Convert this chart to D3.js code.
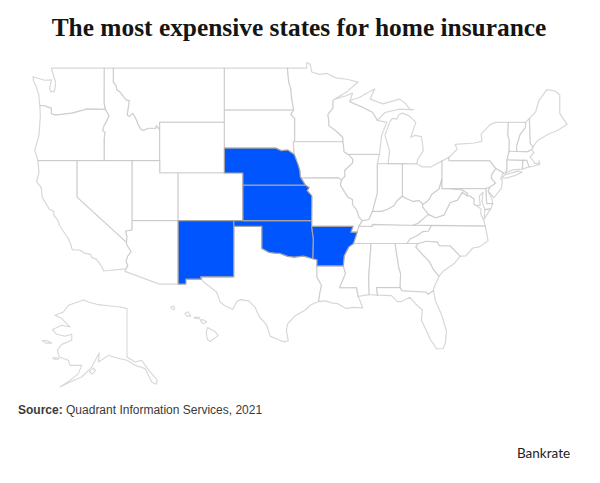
<!DOCTYPE html>
<html><head><meta charset="utf-8">
<script src="https://cdn.jsdelivr.net/npm/d3@7"></script>
<style>
html,body{margin:0;padding:0;background:#fff}
svg{display:block}
</style></head><body>
<svg id="c" width="600" height="483"></svg>
<script>
const titleText="The most expensive states for home insurance";
const sourceLabel="Source:";
const sourceText=" Quadrant Information Services, 2021";
const brandText="Bankrate";
const expensiveStates=["Nebraska","Kansas","Oklahoma","Arkansas","New Mexico"];

const WA=[[[-124.73,48.38],[-123.5,48.13],[-122.75,48.15],[-122.95,47.55],[-122.8,47.3],[-122.45,47.3],[-122.35,47.6],[-122.3,48.0],[-122.5,48.4],[-122.75,49],[-117.03,49],[-117.04,46.42],[-116.92,45.99],[-118.98,46],[-119.3,45.93],[-120.5,45.7],[-121.2,45.65],[-122.25,45.55],[-122.75,45.65],[-122.8,46.1],[-123.2,46.15],[-123.5,46.27],[-124,46.27],[-124.07,46.7],[-124.1,47],[-124.4,47.7],[-124.7,48.1]]];
const OR=[[[-124,46.27],[-123.5,46.27],[-123.2,46.15],[-122.8,46.1],[-122.75,45.65],[-122.25,45.55],[-121.2,45.65],[-120.5,45.7],[-119.3,45.93],[-118.98,46],[-116.92,45.99],[-116.5,45.5],[-116.85,45],[-117.05,44.75],[-117.2,44.4],[-116.95,44.2],[-117.03,43.8],[-117.03,42],[-124.2,42],[-124.55,42.84],[-124.1,44],[-123.95,45.5]]];
const ID=[[[-117.03,49],[-116.05,49],[-116.05,48],[-115.72,47.7],[-115.7,47.45],[-115.3,47.25],[-114.95,46.93],[-114.6,46.65],[-114.33,46.65],[-114.45,46],[-114.55,45.57],[-114.33,45.47],[-113.95,45.7],[-113.8,45.52],[-113.45,45.05],[-113.45,44.95],[-113.1,44.5],[-112.85,44.37],[-112.3,44.55],[-111.5,44.55],[-111.4,44.75],[-111.05,44.47],[-111.05,42],[-117.03,42],[-117.03,43.8],[-116.95,44.2],[-117.2,44.4],[-117.05,44.75],[-116.85,45],[-116.5,45.5],[-116.92,45.99],[-117.04,46.42]]];
const MT=[[[-116.05,49],[-104.05,49],[-104.05,45],[-111.05,45],[-111.05,44.47],[-111.4,44.75],[-111.5,44.55],[-112.3,44.55],[-112.85,44.37],[-113.1,44.5],[-113.45,44.95],[-113.45,45.05],[-113.8,45.52],[-113.95,45.7],[-114.33,45.47],[-114.55,45.57],[-114.45,46],[-114.33,46.65],[-114.6,46.65],[-114.95,46.93],[-115.3,47.25],[-115.7,47.45],[-115.72,47.7],[-116.05,48]]];
const WY=[[[-111.05,45],[-104.05,45],[-104.05,41],[-111.05,41]]];
const UT=[[[-114.05,42],[-111.05,42],[-111.05,41],[-109.05,41],[-109.05,37],[-114.05,37]]];
const CO=[[[-109.05,41],[-102.05,41],[-102.05,37],[-109.05,37]]];
const NM=[[[-109.05,37],[-103.03,37],[-103.04,32],[-106.62,32],[-106.53,31.78],[-108.21,31.78],[-108.21,31.33],[-109.05,31.33]]];
const AZ=[[[-114.05,37],[-109.05,37],[-109.05,31.33],[-111.07,31.33],[-114.8,32.5],[-114.72,32.72],[-114.5,33],[-114.7,33.4],[-114.5,33.9],[-114.15,34.27],[-114.6,34.87],[-114.65,35.1],[-114.6,35.6],[-114.75,36.1],[-114.05,36.2]]];
const NV=[[[-120,42],[-114.05,42],[-114.05,36.2],[-114.75,36.1],[-114.6,35.6],[-114.65,35.1],[-120,39]]];
const CA=[[[-124.2,42],[-120,42],[-120,39],[-114.65,35.1],[-114.6,34.87],[-114.15,34.27],[-114.5,33.9],[-114.7,33.4],[-114.5,33],[-114.72,32.72],[-117.12,32.53],[-117.25,32.85],[-117.9,33.6],[-118.4,33.75],[-118.5,34.03],[-119.2,34.15],[-119.6,34.4],[-120.5,34.45],[-120.65,34.9],[-120.9,35.4],[-121.9,36.6],[-122,36.95],[-122.5,37.5],[-122.5,37.8],[-123,38],[-123.75,39],[-123.85,39.8],[-124.35,40.3],[-124.1,41]]];
const TX=[[[-103.03,36.5],[-100,36.5],[-100,34.56],[-99.2,34.2],[-98.6,34.15],[-98.1,34.13],[-97.2,33.85],[-96.5,33.78],[-95.5,33.88],[-94.48,33.64],[-94.04,33.55],[-94.04,33],[-94.04,31.99],[-93.55,31.2],[-93.75,30.4],[-93.85,29.7],[-94.7,29.4],[-95.3,28.9],[-96.4,28.35],[-97.2,27.6],[-97.35,26.95],[-97.15,25.96],[-97.55,25.85],[-98.2,26.05],[-99.1,26.4],[-99.5,27.5],[-100.3,28.3],[-100.7,29.1],[-101.4,29.77],[-102.3,29.88],[-102.7,29.7],[-103.15,28.98],[-104,29.3],[-104.5,29.65],[-104.9,30.6],[-106.2,31.45],[-106.53,31.78],[-106.62,32],[-103.04,32]]];
const OK=[[[-103.03,37],[-94.62,37],[-94.62,36.5],[-94.43,35.4],[-94.48,33.64],[-95.5,33.88],[-96.5,33.78],[-97.2,33.85],[-98.1,34.13],[-98.6,34.15],[-99.2,34.2],[-100,34.56],[-100,36.5],[-103.03,36.5]]];
const KS=[[[-102.05,40],[-95.3,40],[-94.9,39.8],[-95.1,39.55],[-94.6,39.1],[-94.62,37],[-102.05,37]]];
const NE=[[[-104.05,43],[-98.5,43],[-97.9,42.8],[-97.2,42.85],[-96.5,42.5],[-96.25,42],[-96.1,41.7],[-95.9,41.2],[-95.85,40.7],[-95.3,40],[-102.05,40],[-102.05,41],[-104.05,41]]];
const SD=[[[-104.05,45.94],[-96.56,45.94],[-96.85,45.6],[-96.45,45.3],[-96.45,43.5],[-96.6,43.5],[-96.5,42.5],[-97.2,42.85],[-97.9,42.8],[-98.5,43],[-104.05,43]]];
const ND=[[[-104.05,49],[-97.23,49],[-97.1,48],[-96.85,47.5],[-96.8,46.9],[-96.56,45.94],[-104.05,45.94]]];
const MN=[[[-97.23,49],[-95.15,49],[-95.15,49.38],[-94.8,49.3],[-94.6,48.72],[-93.8,48.55],[-92.95,48.62],[-92,48.3],[-90.8,48.2],[-89.6,48],[-90.8,47.3],[-92.1,46.75],[-92.3,46.65],[-92.3,46.1],[-92.85,45.6],[-92.75,45],[-92.75,44.75],[-91.9,44.3],[-91.25,43.85],[-91.22,43.5],[-96.45,43.5],[-96.45,45.3],[-96.85,45.6],[-96.56,45.94],[-96.8,46.9],[-96.85,47.5],[-97.1,48]]];
const IA=[[[-96.6,43.5],[-91.22,43.5],[-91.1,42.7],[-90.65,42.5],[-90.15,42.1],[-90.2,41.8],[-91.05,41.2],[-91,40.75],[-91.4,40.4],[-91.73,40.6],[-95.77,40.58],[-95.85,40.7],[-95.9,41.2],[-96.1,41.7],[-96.25,42],[-96.5,42.5]]];
const MO=[[[-95.77,40.58],[-91.73,40.6],[-91.4,40.4],[-91.5,40],[-90.7,39],[-90.2,38.8],[-90.2,38.4],[-89.7,37.85],[-89.5,37.3],[-89.15,37],[-89.5,36.5],[-89.7,36],[-90.38,36],[-90.15,36.5],[-94.62,36.5],[-94.62,37],[-94.6,39.1],[-95.1,39.55],[-94.9,39.8],[-95.3,40]]];
const AR=[[[-94.62,36.5],[-90.15,36.5],[-90.38,36],[-89.7,36],[-90.1,35],[-90.6,34.7],[-91.1,33.9],[-91.2,33],[-94.04,33],[-94.04,33.55],[-94.48,33.64],[-94.43,35.4]]];
const LA=[[[-94.04,33],[-91.2,33],[-90.95,32.3],[-91.6,31],[-89.75,31],[-89.6,30.18],[-89.4,29.8],[-89.1,29.1],[-90.1,29.15],[-90.9,29.05],[-91.8,29.5],[-92.3,29.55],[-93.2,29.77],[-93.85,29.7],[-93.75,30.4],[-93.55,31.2],[-94.04,31.99]]];
const MS=[[[-90.1,35],[-88.2,35],[-88.45,31.9],[-88.4,30.35],[-89.6,30.18],[-89.75,31],[-91.6,31],[-90.95,32.3],[-91.2,33],[-91.1,33.9],[-90.6,34.7]]];
const AL=[[[-88.2,35],[-85.6,35],[-85.2,32.85],[-85,32.3],[-85.05,31],[-87.6,31],[-87.5,30.3],[-88.4,30.35],[-88.45,31.9]]];
const GA=[[[-85.6,35],[-83.1,35],[-83.35,34.7],[-82.55,33.95],[-81.9,33.4],[-81.4,32.6],[-80.85,32.05],[-81.4,31],[-81.45,30.72],[-82.05,30.36],[-82.2,30.57],[-84.86,30.7],[-85.05,31],[-85,32.3],[-85.2,32.85]]];
const FL=[[[-87.6,31],[-85.05,31],[-84.86,30.7],[-82.2,30.57],[-82.05,30.36],[-81.45,30.72],[-81.25,29.8],[-80.55,28.4],[-80.05,26.9],[-80.15,25.75],[-80.4,25.2],[-81.1,25.15],[-81.8,26.1],[-82.2,26.9],[-82.75,27.9],[-82.65,28.9],[-83.4,29.5],[-84,30.1],[-84.9,29.7],[-85.35,29.7],[-86,30.25],[-87.5,30.3]]];
const SC=[[[-83.1,35],[-82.3,35.2],[-81.05,35.15],[-80.8,34.82],[-79.65,34.8],[-78.55,33.87],[-79.2,33.2],[-80.4,32.5],[-80.85,32.05],[-81.4,32.6],[-81.9,33.4],[-82.55,33.95],[-83.35,34.7]]];
const NC=[[[-84.32,35],[-83.1,35],[-82.3,35.2],[-81.05,35.15],[-80.8,34.82],[-79.65,34.8],[-78.55,33.87],[-77.95,33.9],[-77.2,34.6],[-76.5,34.7],[-75.55,35.25],[-75.85,36.55],[-81.68,36.59],[-82,36.1],[-82.6,36.05],[-83.2,35.7],[-84,35.4]]];
const TN=[[[-90.1,35],[-88.2,35],[-84.32,35],[-84,35.4],[-83.2,35.7],[-82.6,36.05],[-82,36.1],[-81.68,36.59],[-83.67,36.6],[-88.07,36.68],[-88.07,36.5],[-89.5,36.5],[-89.7,36]]];
const KY=[[[-89.5,36.5],[-88.07,36.5],[-88.07,36.68],[-83.67,36.6],[-83.15,36.75],[-81.97,37.54],[-82.6,38.15],[-82.6,38.42],[-83,38.73],[-83.7,38.65],[-84.25,38.85],[-84.82,39.1],[-85.4,38.7],[-85.75,38.27],[-86.5,37.95],[-87.1,37.8],[-88.05,37.8],[-88.45,37.1],[-89.15,37]]];
const VA=[[[-83.67,36.6],[-81.68,36.59],[-75.85,36.55],[-76,37],[-76.35,37.6],[-76.3,38],[-77.05,38.4],[-77.05,38.85],[-77.5,39.1],[-77.83,39.13],[-78.35,39.4],[-78.85,38.75],[-79.65,38.55],[-80.3,37.5],[-81.2,37.25],[-81.97,37.54],[-83.15,36.75]],[[-75.25,38.03],[-75.9,37.95],[-75.95,37.15],[-75.6,37.6]]];
const WV=[[[-81.97,37.54],[-81.2,37.25],[-80.3,37.5],[-79.65,38.55],[-78.85,38.75],[-78.35,39.4],[-77.83,39.13],[-77.75,39.32],[-78.4,39.62],[-79.48,39.72],[-80.52,39.72],[-80.52,40.64],[-80.85,39.7],[-81.7,39.2],[-81.8,38.95],[-82.2,38.6],[-82.6,38.42],[-82.6,38.15]]];
const OH=[[[-84.82,41.76],[-83.27,41.75],[-82.7,41.5],[-81.7,41.5],[-80.52,41.98],[-80.52,40.64],[-80.85,39.7],[-81.7,39.2],[-81.8,38.95],[-82.2,38.6],[-82.6,38.42],[-83,38.73],[-83.7,38.65],[-84.25,38.85],[-84.82,39.1]]];
const IN=[[[-87.53,41.76],[-84.82,41.76],[-84.82,39.1],[-85.4,38.7],[-85.75,38.27],[-86.5,37.95],[-87.1,37.8],[-88.05,37.8],[-87.53,39.35]]];
const IL=[[[-90.65,42.5],[-87.3,42.5],[-87.5,41.8],[-87.53,41.76],[-87.53,39.35],[-88.05,37.8],[-88.45,37.1],[-89.15,37],[-89.5,37.3],[-89.7,37.85],[-90.2,38.4],[-90.2,38.8],[-90.7,39],[-91.5,40],[-91.4,40.4],[-91,40.75],[-91.05,41.2],[-90.2,41.8],[-90.15,42.1]]];
const WI=[[[-92.3,46.65],[-92.1,46.75],[-90.9,47],[-90.2,47.2],[-90.5,46.55],[-89.1,46.15],[-88,45.75],[-87.5,45.15],[-86.5,45],[-87.05,44],[-87.3,42.5],[-90.65,42.5],[-91.1,42.7],[-91.22,43.5],[-91.25,43.85],[-91.9,44.3],[-92.75,44.75],[-92.75,45],[-92.85,45.6],[-92.3,46.1]]];
const MI=[[[-90.5,46.55],[-90.3,46.7],[-89.5,46.85],[-88.65,47.2],[-87.8,47.5],[-88.3,46.75],[-86.9,46.4],[-85.1,46.75],[-84.5,46.45],[-84,46],[-83.6,45.95],[-85.1,46],[-86.7,45.75],[-87.5,45.15],[-88,45.75],[-89.1,46.15]],[[-86.35,41.76],[-84.82,41.76],[-83.27,41.75],[-83.15,42.1],[-82.55,42.8],[-82.75,43.9],[-83.45,44],[-83.9,43.85],[-83.35,45],[-84.1,45.5],[-84.8,45.7],[-85.2,45.6],[-85.4,45.25],[-85.9,45.3],[-86.2,45],[-86.7,44],[-86.2,42.8]]];
const PA=[[[-80.52,41.98],[-79.76,42.27],[-79.76,42],[-75.35,42],[-75.05,41.7],[-74.7,41.36],[-75.1,40.95],[-75.2,40.6],[-74.72,40.15],[-75.4,39.8],[-75.8,39.72],[-80.52,39.72]]];
const NY=[[[-79.76,42.27],[-78.9,42.9],[-79.1,43.3],[-77,43.4],[-76.2,43.55],[-76.3,44.1],[-75.3,44.85],[-74.7,45],[-73.35,45],[-73.4,44],[-73.25,43.6],[-73.27,42.75],[-73.5,42.05],[-73.5,41.3],[-73.65,41],[-73.9,40.99],[-74.7,41.36],[-75.05,41.7],[-75.35,42],[-79.76,42]],[[-74.03,40.6],[-73.75,40.85],[-72.3,41.15],[-71.87,41.07],[-72.6,40.8],[-73.6,40.58]]];
const NJ=[[[-74.7,41.36],[-73.9,40.99],[-74.2,40.5],[-74,40.4],[-74.1,39.75],[-74.9,38.95],[-75.55,39.5],[-75.4,39.8],[-74.72,40.15],[-75.2,40.6],[-75.1,40.95]]];
const DE=[[[-75.8,39.72],[-75.4,39.8],[-75.55,39.5],[-75.1,38.8],[-75.05,38.45],[-75.7,38.46]]];
const MD=[[[-79.48,39.72],[-75.8,39.72],[-75.7,38.46],[-75.05,38.45],[-75.25,38.03],[-75.9,37.95],[-76.2,38.6],[-76.1,39.4],[-76.5,39.1],[-76.4,38.3],[-76.9,38.3],[-77.05,38.4],[-77.05,38.85],[-77.5,39.1],[-77.83,39.13],[-77.75,39.32],[-78.4,39.62]]];
const VT=[[[-73.35,45],[-71.5,45],[-71.5,44.6],[-72.05,44.1],[-72.45,43.2],[-72.46,42.73],[-73.27,42.75],[-73.25,43.6],[-73.4,44]]];
const NH=[[[-71.5,45],[-71.08,45.3],[-70.98,43.4],[-70.7,43.07],[-70.82,42.87],[-71.3,42.7],[-72.46,42.73],[-72.45,43.2],[-72.05,44.1],[-71.5,44.6]]];
const ME=[[[-71.08,45.3],[-70.4,45.8],[-70.25,46.2],[-70,46.7],[-69.2,47.45],[-68.3,47.35],[-67.8,47.07],[-67.8,45.7],[-67.45,45.3],[-67,44.85],[-68,44.4],[-69,44.1],[-70.2,43.6],[-70.7,43.07],[-70.98,43.4]]];
const MA=[[[-73.5,42.05],[-73.27,42.75],[-72.46,42.73],[-71.3,42.7],[-70.82,42.87],[-70.6,42.65],[-71,42.3],[-70.65,41.95],[-70.5,41.78],[-70,41.8],[-70.05,42.05],[-69.95,41.7],[-70.65,41.55],[-71.12,41.5],[-71.38,42.02],[-71.8,42.02]]];
const RI=[[[-71.8,42.02],[-71.38,42.02],[-71.12,41.5],[-71.85,41.32]]];
const CT=[[[-73.5,42.05],[-71.8,42.02],[-71.85,41.32],[-72.9,41.25],[-73.65,41],[-73.5,41.3]]];
const AK=[[[-141,69.87],[-143.5,70.2],[-147.1,70.4],[-151.3,70.66],[-154.9,71.19],[-156.7,71.59],[-159.7,71],[-162.1,70.53],[-163.9,69.2],[-166.9,68.55],[-164.5,67.9],[-161.5,66.24],[-164.5,66.57],[-167.9,65.7],[-166.3,64.8],[-163.3,64.4],[-160.9,64.8],[-160.9,63.6],[-164.5,62.8],[-166.1,61.6],[-165.4,60.3],[-162.1,59.64],[-161.5,58.65],[-157.3,58.65],[-158.5,57],[-161.5,55.68],[-165.1,54.36],[-161.5,55.35],[-157.3,56.34],[-153.7,58.3],[-151,61.1],[-151.3,59.3],[-147.7,60.63],[-144.7,60.1],[-141,59.64],[-138.1,58.65],[-134.5,58],[-132.1,55.35],[-130.6,54.9],[-130.1,55.7],[-133.3,57.8],[-135.7,59.64],[-138.1,59.3],[-141,60.3]],[[-154.6,57.4],[-153,58.1],[-152.4,57.6],[-153.6,56.9]],[[-167.8,60.1],[-166.5,60.2],[-165.5,59.95],[-166.8,59.8]],[[-171.5,63.55],[-169.8,63.55],[-168.1,63.05],[-170.2,63.05]]];
const HI=[[[-159.75,22.1],[-159.5,22.25],[-159.3,22.05],[-159.45,21.88]],[[-158.25,21.55],[-157.95,21.7],[-157.65,21.3],[-158.1,21.3]],[[-157.3,21.2],[-156.7,21.17],[-156.9,21.05],[-157.25,21.08]],[[-156.7,20.95],[-156.3,20.95],[-156,20.75],[-156.4,20.6]],[[-155.9,20.25],[-155.1,19.85],[-154.8,19.5],[-155.65,18.95],[-155.9,19.1],[-156.05,19.75]]];

const lower48={Washington:WA,Oregon:OR,Idaho:ID,Montana:MT,Wyoming:WY,Utah:UT,Colorado:CO,"New Mexico":NM,Arizona:AZ,Nevada:NV,California:CA,Texas:TX,Oklahoma:OK,Kansas:KS,Nebraska:NE,"South Dakota":SD,"North Dakota":ND,Minnesota:MN,Iowa:IA,Missouri:MO,Arkansas:AR,Louisiana:LA,Mississippi:MS,Alabama:AL,Georgia:GA,Florida:FL,"South Carolina":SC,"North Carolina":NC,Tennessee:TN,Kentucky:KY,Virginia:VA,"West Virginia":WV,Ohio:OH,Indiana:IN,Illinois:IL,Wisconsin:WI,Michigan:MI,Pennsylvania:PA,"New York":NY,"New Jersey":NJ,Delaware:DE,Maryland:MD,Vermont:VT,"New Hampshire":NH,Maine:ME,Massachusetts:MA,"Rhode Island":RI,Connecticut:CT};

const mercator=d3.geoMercator().scale(530).translate([1186.9,589.5]);
const planar=fn=>d3.geoTransform({point(x,y){const p=fn(x,y);this.stream.point(p[0],p[1]);}});
const akX=d3.scaleLinear().domain([-168,-141]).range([52,127]);
const akY=d3.scaleLinear().domain([60.3,70]).range([357,308]);
const hiX=d3.scaleLinear().domain([-155.5,-159.5]).range([211.5,173]);
const hiY=d3.scaleLinear().domain([19.6,22.05]).range([334.5,308]);
const mainPath=d3.geoPath(planar((x,y)=>mercator([x,y])));
const akPath=d3.geoPath(planar((x,y)=>[akX(x),akY(y)]));
const hiPath=d3.geoPath(planar((x,y)=>[hiX(x),hiY(y)]));
const feature=rings=>({type:"MultiPolygon",coordinates:rings.map(r=>[r.concat([r[0]])])});

const svg=d3.select("#c");
svg.append("rect").attr("width",600).attr("height",483).attr("fill","#fff");
const names=Object.keys(lower48).sort((a,b)=>expensiveStates.includes(a)-expensiveStates.includes(b));
const g=svg.append("g").attr("stroke-linejoin","round");
g.selectAll("path.state").data(names).join("path").attr("class","state")
 .attr("d",n=>mainPath(feature(lower48[n])))
 .attr("fill",n=>expensiveStates.includes(n)?"#0055ff":"#fff")
 .attr("stroke",n=>expensiveStates.includes(n)?"#a4a4a4":"#bdbdbd")
 .attr("stroke-opacity",n=>expensiveStates.includes(n)?1:0.6)
 .attr("stroke-width",1.2);
g.append("path").attr("d",akPath(feature(AK))).attr("fill","#fff").attr("stroke","#bdbdbd").attr("stroke-opacity",0.6).attr("stroke-width",1.1);
g.append("path").attr("d",hiPath(feature(HI))).attr("fill","#fff").attr("stroke","#bdbdbd").attr("stroke-opacity",0.6).attr("stroke-width",1.1);

svg.append("text").attr("x",299).attr("y",36).attr("text-anchor","middle")
 .attr("font-family","'Liberation Serif',serif").attr("font-weight",700).attr("font-size",25.4)
 .attr("fill","#151515").text(titleText);
const src=svg.append("text").attr("x",18).attr("y",414).attr("font-family","'Liberation Sans',Arial,sans-serif").attr("font-size",12).attr("fill","#3a3a3a");
src.append("tspan").attr("font-weight",700).text(sourceLabel);
src.append("tspan").text(sourceText);
svg.append("text").attr("x",517).attr("y",458).attr("font-family","Lato,sans-serif").attr("font-size",13.5)
 .attr("fill","#222").text(brandText);
</script>
</body></html>
